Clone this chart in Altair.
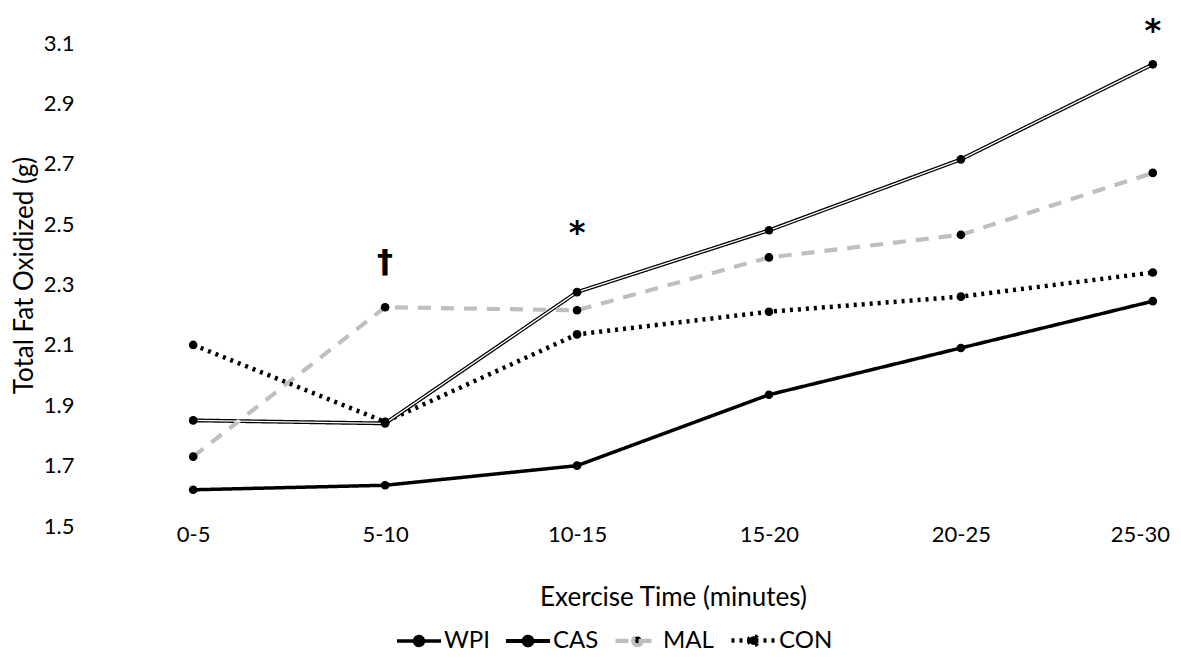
import altair as alt
import pandas as pd

# Exercise time bins (x axis) and fat oxidised per bin (g), one list per arm.
categories = ["0-5", "5-10", "10-15", "15-20", "20-25", "25-30"]
wpi = [1.62, 1.635, 1.70, 1.935, 2.09, 2.245]
cas = [1.85, 1.84, 2.275, 2.48, 2.715, 3.03]
mal = [1.73, 2.225, 2.215, 2.39, 2.465, 2.67]
con = [2.10, 1.845, 2.135, 2.21, 2.26, 2.34]
series_names = ["WPI", "CAS", "MAL", "CON"]
y_ticks = [1.5, 1.7, 1.9, 2.1, 2.3, 2.5, 2.7, 2.9, 3.1]

# Significance markers above selected bins.
marks_text = ["†", "*", "*"]
marks_cat = ["5-10", "10-15", "25-30"]
marks_val = [2.375, 2.47, 3.14]

_FONT = "Lato"
_GREY = "#bfbfbf"
# line + dot legend glyph
_LEGEND_GLYPH = ("M-1,0H1M-0.2,0A0.2,0.2,0,1,0,0.2,0"
                 "A0.2,0.2,0,1,0,-0.2,0Z")

df = pd.concat(
    [pd.DataFrame({"time": categories, "fat": vals, "group": name})
     for name, vals in zip(series_names, [wpi, cas, mal, con])],
    ignore_index=True,
)
notes = pd.DataFrame({"label": marks_text, "time": marks_cat, "fat": marks_val})

# last category label is pulled in so it stays on the page, like the original
_last_label_shift = {"condition": {"test": "datum.value == '25-30'", "value": -13},
                     "value": 0}

x = alt.X("time:N", sort=categories, title="Exercise Time (minutes)",
          scale=alt.Scale(type="point", padding=0.1),
          axis=alt.Axis(labelAngle=0, labelBaseline="middle", labelPadding=8,
                        labelOffset=_last_label_shift,
                        titleY=71, titleBaseline="middle"))
y = alt.Y("fat:Q", title="Total Fat Oxidized (g)",
          scale=alt.Scale(domain=[1.5, 3.2], nice=False, zero=False),
          axis=alt.Axis(values=y_ticks, format=".1f", labelPadding=100,
                        titleX=-150, titleY=262, titleBaseline="middle"))

legend = alt.Legend(title=None, orient="none", direction="horizontal",
                    legendX=221, legendY=603, symbolType=_LEGEND_GLYPH,
                    symbolSize=1936, symbolStrokeWidth=3,
                    symbolFillColor="black", labelFontSize=24,
                    labelFont=_FONT, labelColor="black", labelOffset=1,
                    columnPadding=8)

lines = alt.Chart(df).mark_line(strokeCap="butt").encode(
    x=x,
    y=y,
    color=alt.Color("group:N", sort=series_names, legend=legend,
                    scale=alt.Scale(domain=series_names,
                                    range=["black", "black", _GREY, "black"])),
    strokeDash=alt.StrokeDash("group:N", sort=series_names, legend=legend,
                              scale=alt.Scale(domain=series_names,
                                              range=[[1, 0], [1, 0], [13, 10], [3, 5]])),
    strokeWidth=alt.StrokeWidth("group:N", legend=None,
                                scale=alt.Scale(domain=series_names,
                                                range=[3.5, 4.5, 3.5, 3.5])),
)

# CAS is drawn as a double line: white core over the black stroke.
cas_core = alt.Chart(df).transform_filter(alt.datum.group == "CAS").mark_line(
    color="white", strokeWidth=1.3).encode(x=x, y=y)

points = alt.Chart(df).mark_circle(color="black", opacity=1, size=75).encode(
    x=x, y=y, detail="group:N")

annotations = alt.Chart(notes).mark_text(
    font="DejaVu Sans", fontSize=32, fontWeight="bold", color="black",
    baseline="middle").encode(x=x, y=y, text="label:N")

chart = (
    alt.layer(lines, cas_core, points, annotations)
    .properties(width=998, height=513,
                autosize=alt.AutoSizeParams(type="none"),
                padding={"left": 166, "top": 5, "right": 0, "bottom": 129})
    .configure_view(stroke=None)
    .configure_axis(grid=False, domain=False, ticks=False,
                    labelFont=_FONT, labelFontSize=22, labelColor="black",
                    titleFont=_FONT, titleFontSize=26, titleFontWeight="normal",
                    titleColor="black")
)

chart.save("out.html", embed_options={"renderer": "svg", "actions": False})
